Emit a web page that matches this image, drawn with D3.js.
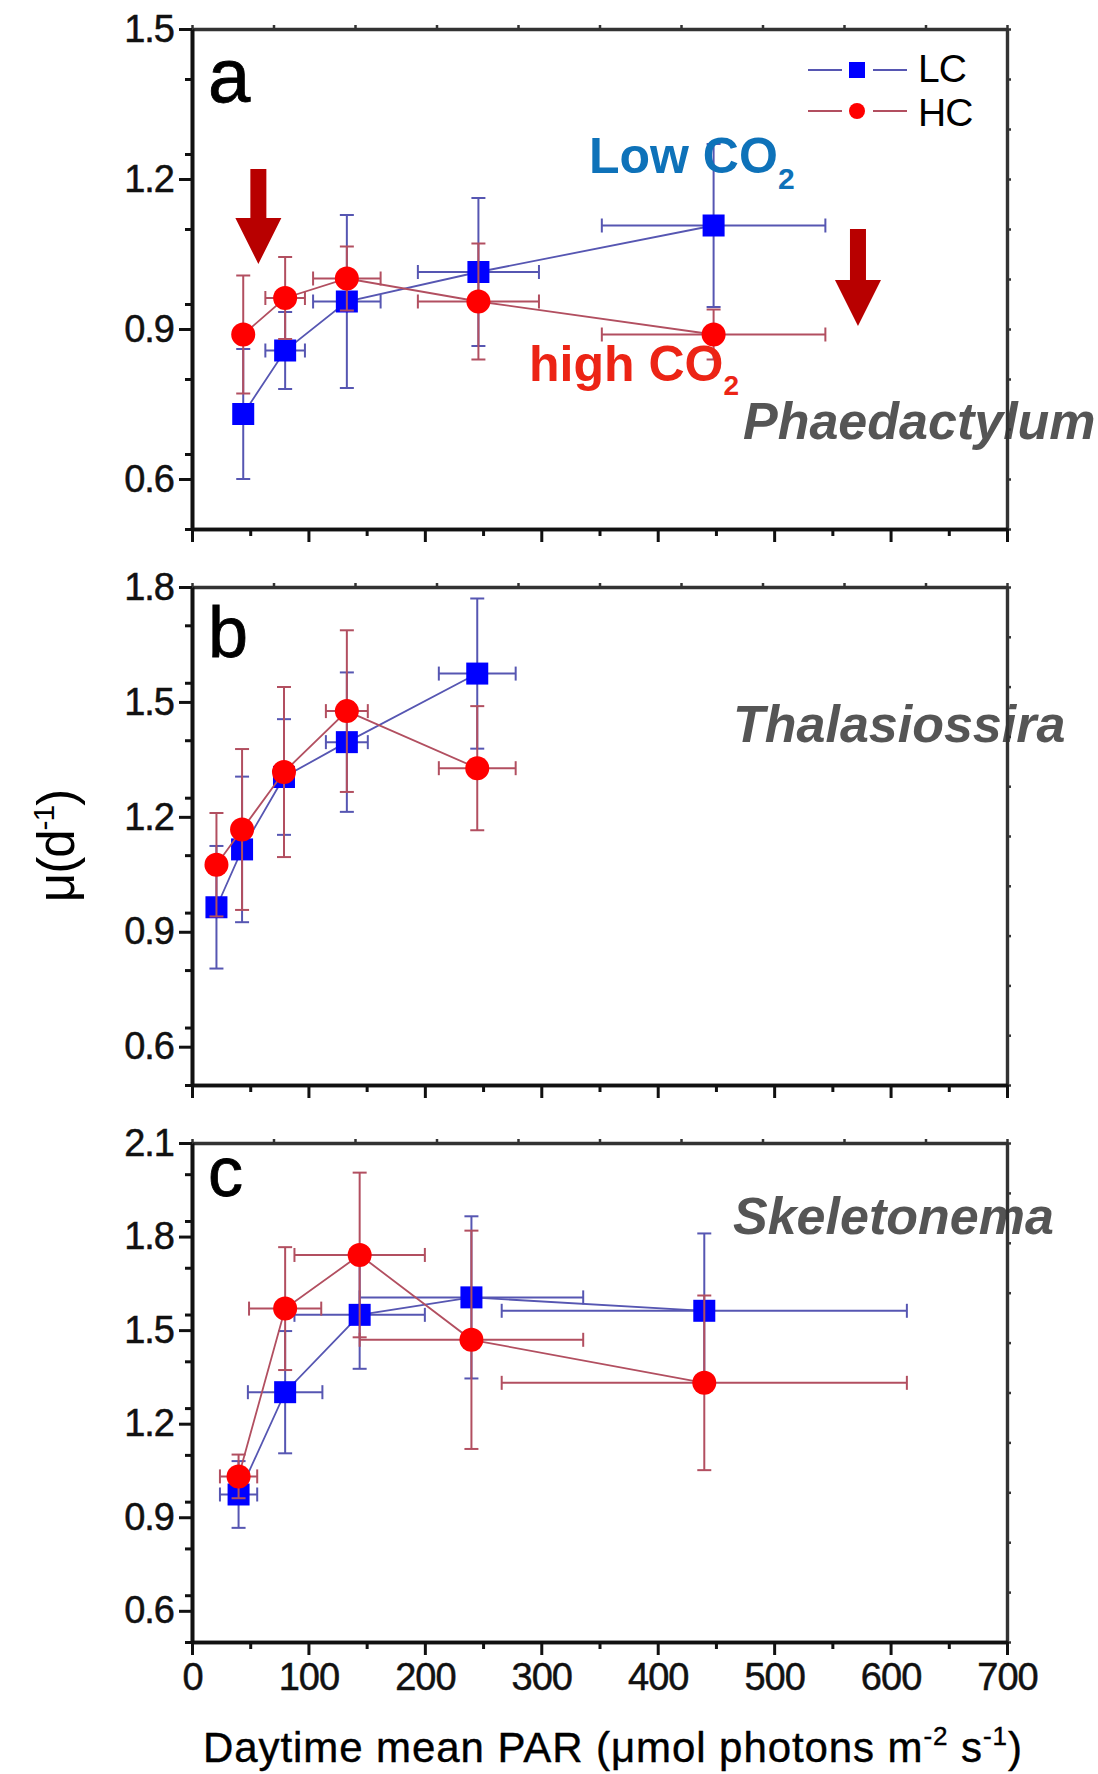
<!DOCTYPE html>
<html>
<head>
<meta charset="utf-8">
<script src="https://cdn.jsdelivr.net/npm/d3@7"></script>
<style>
  html, body { margin: 0; padding: 0; background: #fff; }
  svg { display: block; font-family: "Liberation Sans", Arial, Helvetica, sans-serif; }
</style>
</head>
<body>
<svg id="chart" width="1098" height="1774"></svg>
<script>
// ---- Panel setup ----
const panelLetters = ["a", "b", "c"];
const speciesNames = ["Phaedactylum", "Thalasiossira", "Skeletonema"];
const yDomains = [[0.5, 1.5], [0.5, 1.8], [0.5, 2.1]];
const yTickValues = [[0.6, 0.9, 1.2, 1.5], [0.6, 0.9, 1.2, 1.5, 1.8], [0.6, 0.9, 1.2, 1.5, 1.8, 2.1]];
const xDomain = [0, 700];
const xTickValues = [0, 100, 200, 300, 400, 500, 600, 700];
const xMinorTickValues = [50, 150, 250, 350, 450, 550, 650];

// ---- a: Phaeodactylum ----
const lcParA    = [44, 80, 133, 246, 448];
const lcParErrA = [0, 17, 29, 52, 96];
const lcMuA     = [0.730, 0.857, 0.955, 1.014, 1.107];
const lcMuErrA  = [0.130, 0.077, 0.173, 0.148, 0.163];
const hcParA    = [44, 80, 133, 246, 448];
const hcParErrA = [0, 17, 29, 52, 96];
const hcMuA     = [0.889, 0.962, 1.001, 0.955, 0.889];
const hcMuErrA  = [0.118, 0.082, 0.064, 0.116, 0.050];

// ---- b: Thalassiosira ----
const lcParB    = [21, 43, 79, 133, 245];
const lcParErrB = [0, 0, 0, 18, 33];
const lcMuB     = [0.964, 1.115, 1.304, 1.395, 1.574];
const lcMuErrB  = [0.160, 0.190, 0.151, 0.182, 0.196];
const hcParB    = [21, 43, 79, 133, 245];
const hcParErrB = [0, 0, 0, 18, 33];
const hcMuB     = [1.075, 1.167, 1.317, 1.476, 1.327];
const hcMuErrB  = [0.135, 0.210, 0.222, 0.211, 0.162];

// ---- c: Skeletonema ----
const lcParC    = [40, 80, 144, 240, 440];
const lcParErrC = [16, 32, 56, 96, 174];
const lcMuC     = [0.973, 1.301, 1.549, 1.605, 1.562];
const lcMuErrC  = [0.107, 0.196, 0.173, 0.260, 0.248];
const hcParC    = [40, 80, 144, 240, 440];
const hcParErrC = [16, 31, 56, 96, 174];
const hcMuC     = [1.031, 1.569, 1.741, 1.469, 1.331];
const hcMuErrC  = [0.070, 0.197, 0.264, 0.350, 0.280];

// Red arrows in panel a (PAR position, start and end growth rate)
const arrowPar  = [57, 572];
const arrowFrom = [1.22, 1.10];
const arrowTo   = [1.03, 0.906];

// ---- Styling ----
const LC_LINE = "#5656b2", LC_FILL = "#0000ff";
const HC_LINE = "#b24f60", HC_FILL = "#ff0000";
const AXIS_COLOR = "#111";
const FRAME_COLOR = "#333";

const left = 192, right = 1007;
const panelTops = [29, 587, 1143];
const panelBottoms = [529, 1085, 1642];

function zipSeries(par, parErr, mu, muErr) {
  return par.map((p, i) => ({ x: p, xe: parErr[i], y: mu[i], ye: muErr[i] }));
}

const panels = [
  { lc: zipSeries(lcParA, lcParErrA, lcMuA, lcMuErrA), hc: zipSeries(hcParA, hcParErrA, hcMuA, hcMuErrA) },
  { lc: zipSeries(lcParB, lcParErrB, lcMuB, lcMuErrB), hc: zipSeries(hcParB, hcParErrB, hcMuB, hcMuErrB) },
  { lc: zipSeries(lcParC, lcParErrC, lcMuC, lcMuErrC), hc: zipSeries(hcParC, hcParErrC, hcMuC, hcMuErrC) }
];

const svg = d3.select("#chart");
svg.append("rect").attr("width", 1098).attr("height", 1774).attr("fill", "#fff");

const x = d3.scaleLinear().domain(xDomain).range([left, right]);

const scales = [];

panels.forEach((panel, pi) => {
  const top = panelTops[pi], bottom = panelBottoms[pi];
  const y = d3.scaleLinear().domain(yDomains[pi]).range([bottom, top]);
  scales.push(y);
  const g = svg.append("g").attr("class", "panel-" + panelLetters[pi]);

  // species name (drawn before the frame so the axis line sits on top)
  g.append("text")
    .attr("x", [743, 733, 733][pi]).attr("y", [439, 742, 1234][pi])
    .attr("font-size", 52).attr("font-weight", "bold").attr("font-style", "italic")
    .attr("fill", "#555").text(speciesNames[pi]);

  // panel letter
  g.append("text")
    .attr("x", 208).attr("y", [102, 657, 1196][pi])
    .attr("font-size", [76, 72, 70][pi]).attr("fill", "#000")
    .attr("stroke", "#000").attr("stroke-width", 0.8)
    .text(panelLetters[pi]);

  // series
  const drawSeries = (data, lineColor, fillColor, shape) => {
    const sg = g.append("g");
    sg.append("path")
      .datum(data)
      .attr("fill", "none").attr("stroke", lineColor).attr("stroke-width", 1.8)
      .attr("d", d3.line().x(d => x(d.x)).y(d => y(d.y)));
    const cap = 7;
    data.forEach(d => {
      if (d.ye > 0) {
        const y0 = y(d.y - d.ye), y1 = y(d.y + d.ye), cx = x(d.x);
        sg.append("line").attr("x1", cx).attr("x2", cx).attr("y1", y0).attr("y2", y1)
          .attr("stroke", lineColor).attr("stroke-width", 2);
        [y0, y1].forEach(yy => sg.append("line").attr("x1", cx - cap).attr("x2", cx + cap)
          .attr("y1", yy).attr("y2", yy).attr("stroke", lineColor).attr("stroke-width", 2));
      }
      if (d.xe > 0) {
        const x0 = x(d.x - d.xe), x1 = x(d.x + d.xe), cy = y(d.y);
        sg.append("line").attr("x1", x0).attr("x2", x1).attr("y1", cy).attr("y2", cy)
          .attr("stroke", lineColor).attr("stroke-width", 2);
        [x0, x1].forEach(xx => sg.append("line").attr("x1", xx).attr("x2", xx)
          .attr("y1", cy - cap).attr("y2", cy + cap).attr("stroke", lineColor).attr("stroke-width", 2));
      }
    });
    if (shape === "square") {
      sg.selectAll("rect.mk").data(data).join("rect").attr("class", "mk")
        .attr("x", d => x(d.x) - 11).attr("y", d => y(d.y) - 11)
        .attr("width", 22).attr("height", 22).attr("fill", fillColor);
    } else {
      sg.selectAll("circle.mk").data(data).join("circle").attr("class", "mk")
        .attr("cx", d => x(d.x)).attr("cy", d => y(d.y)).attr("r", 12)
        .attr("fill", fillColor);
    }
  };
  drawSeries(panel.lc, LC_LINE, LC_FILL, "square");
  drawSeries(panel.hc, HC_LINE, HC_FILL, "circle");

  // ---- axes & frame ----
  const yStep = yTickValues[pi][1] - yTickValues[pi][0];
  const yMinor = [];
  for (let v = yDomains[pi][0]; v <= yDomains[pi][1] + 1e-9; v += yStep / 2) {
    const r = Math.round(v * 1000) / 1000;
    if (!yTickValues[pi].some(t => Math.abs(t - r) < 1e-6)) yMinor.push(r);
  }

  // top & right axes: ten equal divisions
  const topTicks = d3.range(0, 11).map(i => xDomain[0] + i * (xDomain[1] - xDomain[0]) / 10);
  const rightTicks = d3.range(0, 11).map(i => yDomains[pi][0] + i * (yDomains[pi][1] - yDomains[pi][0]) / 10);

  const topAxis = g.append("g").attr("transform", `translate(0,${top})`)
    .call(d3.axisTop(x).tickValues(topTicks).tickSize(4).tickSizeOuter(0).tickFormat(""));
  const rightAxis = g.append("g").attr("transform", `translate(${right},0)`)
    .call(d3.axisRight(y).tickValues(rightTicks).tickSize(4).tickSizeOuter(0).tickFormat(""));
  [topAxis, rightAxis].forEach(a => {
    a.select(".domain").attr("stroke", FRAME_COLOR).attr("stroke-width", 3.4);
    a.selectAll(".tick line").attr("stroke", FRAME_COLOR).attr("stroke-width", 2.5);
  });

  const yMinorAxis = g.append("g").attr("transform", `translate(${left},0)`)
    .call(d3.axisLeft(y).tickValues(yMinor).tickSize(7).tickSizeOuter(0).tickFormat(""));
  const yAxis = g.append("g").attr("transform", `translate(${left},0)`)
    .call(d3.axisLeft(y).tickValues(yTickValues[pi]).tickSize(13).tickPadding(5)
      .tickSizeOuter(0).tickFormat(d3.format(".1f")));
  const xMinorAxis = g.append("g").attr("transform", `translate(0,${bottom})`)
    .call(d3.axisBottom(x).tickValues(xMinorTickValues).tickSize(7).tickSizeOuter(0).tickFormat(""));
  const xAxis = g.append("g").attr("transform", `translate(0,${bottom})`)
    .call(d3.axisBottom(x).tickValues(xTickValues).tickSize(13).tickPadding(8).tickSizeOuter(0)
      .tickFormat(pi === 2 ? d3.format("d") : ""));

  [yMinorAxis, yAxis, xMinorAxis, xAxis].forEach(a => {
    a.select(".domain").attr("stroke", AXIS_COLOR).attr("stroke-width", 3.6);
    a.selectAll(".tick line").attr("stroke", AXIS_COLOR).attr("stroke-width", 3);
    a.selectAll(".tick text").attr("font-size", 38).attr("fill", "#111")
      .attr("stroke", "#111").attr("stroke-width", 0.5)
      .attr("font-family", "'Liberation Sans', Arial, sans-serif").attr("letter-spacing", -1);
  });
});

// ---- Panel a annotations ----
const ya = scales[0];
const gA = svg.select(".panel-a");

// arrows
arrowPar.forEach((p, i) => {
  const cx = x(p), y0 = ya(arrowFrom[i]), y1 = ya(arrowTo[i]);
  const headLen = 46, shaftHalf = 8, headHalf = 23;
  const yh = y1 - headLen;
  gA.append("path")
    .attr("d", `M${cx - shaftHalf},${y0} L${cx + shaftHalf},${y0} L${cx + shaftHalf},${yh}
                L${cx + headHalf},${yh} L${cx},${y1} L${cx - headHalf},${yh}
                L${cx - shaftHalf},${yh} Z`)
    .attr("fill", "#b80000");
});

// "Low CO2" and "high CO2" labels
const lowT = gA.append("text").attr("x", 589).attr("y", 173)
  .attr("font-size", 50).attr("font-weight", "bold").attr("fill", "#0e72b9");
lowT.append("tspan").text("Low CO");
lowT.append("tspan").attr("font-size", 30).attr("dy", 16).text("2");

const highT = gA.append("text").attr("x", 529).attr("y", 381)
  .attr("font-size", 50).attr("font-weight", "bold").attr("fill", "#ec2415");
highT.append("tspan").text("high CO");
highT.append("tspan").attr("font-size", 28).attr("dy", 14).text("2");

// legend
const legend = gA.append("g");
const legendItems = [
  { label: "LC", line: LC_LINE, fill: LC_FILL, shape: "square", y: 70, base: 82 },
  { label: "HC", line: HC_LINE, fill: HC_FILL, shape: "circle", y: 111, base: 126 }
];
legendItems.forEach(it => {
  legend.append("line").attr("x1", 808).attr("x2", 842).attr("y1", it.y).attr("y2", it.y)
    .attr("stroke", it.line).attr("stroke-width", 1.8);
  legend.append("line").attr("x1", 873).attr("x2", 907).attr("y1", it.y).attr("y2", it.y)
    .attr("stroke", it.line).attr("stroke-width", 1.8);
  if (it.shape === "square") {
    legend.append("rect").attr("x", 849).attr("y", it.y - 8).attr("width", 16).attr("height", 16).attr("fill", it.fill);
  } else {
    legend.append("circle").attr("cx", 857).attr("cy", it.y).attr("r", 8).attr("fill", it.fill);
  }
  legend.append("text").attr("x", 918).attr("y", it.base)
    .attr("font-size", 39).attr("letter-spacing", -1).attr("fill", "#000").text(it.label);
});

// ---- Axis titles ----
const yTitle = svg.append("text")
  .attr("transform", "translate(74,846) rotate(-90)")
  .attr("text-anchor", "middle").attr("font-size", 51).attr("letter-spacing", -1)
  .attr("fill", "#000");
yTitle.append("tspan").text("μ(d");
yTitle.append("tspan").attr("font-size", 30).attr("dy", -20).text("-1");
yTitle.append("tspan").attr("dy", 20).text(")");

const xTitle = svg.append("text")
  .attr("x", 203).attr("y", 1762).attr("font-size", 42).attr("fill", "#000")
  .attr("stroke", "#000").attr("stroke-width", 0.4);
xTitle.append("tspan").text("Daytime mean PAR (μmol photons m");
xTitle.append("tspan").attr("font-size", 26).attr("dy", -17).text("-2");
xTitle.append("tspan").attr("dy", 17).text(" s");
xTitle.append("tspan").attr("font-size", 26).attr("dy", -17).text("-1");
xTitle.append("tspan").attr("dy", 17).text(")");
// fit the title to the axis span
{
  const node = xTitle.node();
  const w = node.getComputedTextLength();
  const target = 819;
  const n = node.textContent.length;
  xTitle.attr("letter-spacing", (target - w) / (n - 1));
}
</script>
</body>
</html>
